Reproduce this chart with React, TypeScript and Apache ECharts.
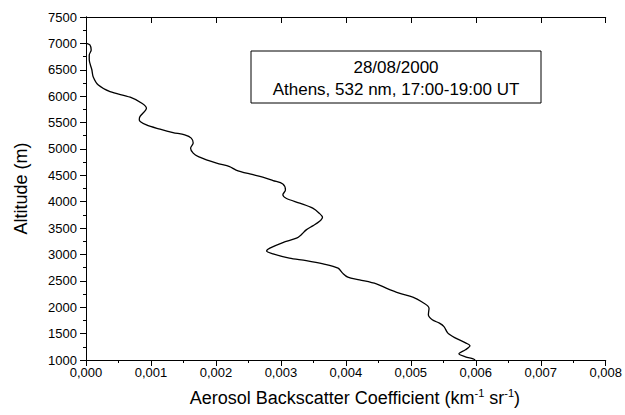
import React, { useEffect, useRef } from "react";
import * as echarts from "echarts";

const altitude = [
  7000, 6970, 6875, 6780, 6690, 6500, 6370, 6210, 6085, 5980, 5865, 5770, 5612, 5550, 5455,
  5375, 5310, 5265, 5205, 5110, 5015, 4920, 4855, 4730, 4665, 4600, 4525, 4465, 4400, 4337,
  4223, 4130, 4066, 3972, 3877, 3782, 3706, 3623, 3542, 3466, 3371, 3309, 3225, 3119, 3065,
  3011, 2930, 2884, 2822, 2740, 2646, 2570, 2519, 2443, 2362, 2267, 2191, 2108, 1983, 1856,
  1761, 1699, 1634, 1509, 1415, 1320, 1269, 1193, 1117, 1060, 1022, 1000,
];

const backscatter = [
  0.00001, 0.00006, 0.00008, 0.00005, 0.00005, 0.00009, 0.00011, 0.00019, 0.00037, 0.00068,
  0.00086, 0.00093, 0.00083, 0.00082, 0.00093, 0.00114, 0.00134, 0.00152, 0.00162, 0.00165,
  0.00161, 0.00165, 0.00173, 0.00201, 0.00221, 0.00231, 0.00252, 0.00272, 0.00288, 0.00303,
  0.00307, 0.00303, 0.00308, 0.00329, 0.00349, 0.00359, 0.00364, 0.00359, 0.00349, 0.00339,
  0.00331, 0.00324, 0.00303, 0.00283, 0.00278, 0.00288, 0.00313, 0.00339, 0.00365, 0.00388,
  0.00395, 0.00403, 0.00421, 0.00447, 0.00462, 0.00482, 0.00503, 0.00516, 0.00528, 0.00527,
  0.00533, 0.00544, 0.00551, 0.00557, 0.00569, 0.00585, 0.00591, 0.00584, 0.00574, 0.00584,
  0.00596, 0.00599,
];

const annotationLines = ["28/08/2000", "Athens, 532 nm, 17:00-19:00 UT"];

const FONT = "'Liberation Sans', Arial, sans-serif";

export default function App() {
  const ref = useRef<HTMLDivElement>(null);

  useEffect(() => {
    if (!ref.current) return;
    const chart = echarts.init(ref.current, null, { renderer: "svg" });
    const data = altitude.map((a, i) => [backscatter[i], a]);
    const axisLine = { show: true, lineStyle: { color: "#000", width: 1 } };

    chart.setOption({
      animation: false,
      backgroundColor: "#fff",
      textStyle: { fontFamily: FONT },
      grid: { left: 86, right: 18, top: 17, bottom: 55, containLabel: false },
      xAxis: [
        {
          type: "value",
          position: "bottom",
          min: 0,
          max: 0.008,
          interval: 0.001,
          axisLine,
          axisTick: { show: true, inside: false, length: 6, lineStyle: { color: "#000" } },
          minorTick: { show: true, splitNumber: 2, length: 3, lineStyle: { color: "#000" } },
          splitLine: { show: false },
          axisLabel: {
            color: "#000",
            fontSize: 13,
            fontFamily: FONT,
            margin: 6,
            formatter: (v: number) => v.toFixed(3).replace(".", ","),
          },
          name: "Aerosol Backscatter Coefficient (km{sup|-1} sr{sup|-1})",
          nameLocation: "middle",
          nameGap: 27,
          nameTextStyle: {
            color: "#000",
            fontSize: 18,
            fontFamily: FONT,
            lineHeight: 22,
            padding: [0, 0, 0, 18],
            rich: {
              sup: { fontSize: 11, fontFamily: FONT, color: "#000", verticalAlign: "top", lineHeight: 11 },
            },
          },
        },
        {
          type: "value",
          position: "top",
          min: 0,
          max: 0.008,
          interval: 0.001,
          axisLine,
          axisTick: { show: true, inside: true, length: 6, lineStyle: { color: "#000" } },
          axisLabel: { show: false },
          splitLine: { show: false },
        },
      ],
      yAxis: [
        {
          type: "value",
          position: "left",
          min: 1000,
          max: 7500,
          interval: 500,
          axisLine,
          axisTick: { show: true, inside: false, length: 6, lineStyle: { color: "#000" } },
          minorTick: { show: true, splitNumber: 2, length: 3, lineStyle: { color: "#000" } },
          splitLine: { show: false },
          axisLabel: {
            color: "#000",
            fontSize: 13,
            fontFamily: FONT,
            margin: 9,
            formatter: (v: number) => String(Math.round(v)),
          },
          name: "Altitude (m)",
          nameLocation: "middle",
          nameGap: 56,
          nameRotate: 90,
          nameTextStyle: { color: "#000", fontSize: 18, fontFamily: FONT },
        },
        {
          type: "value",
          position: "right",
          min: 1000,
          max: 7500,
          interval: 500,
          axisLine,
          axisTick: { show: true, inside: true, length: 6, lineStyle: { color: "#000" } },
          axisLabel: { show: false },
          splitLine: { show: false },
        },
      ],
      series: [
        {
          type: "line",
          xAxisIndex: 0,
          yAxisIndex: 0,
          data,
          smooth: 0.3,
          showSymbol: false,
          symbol: "none",
          lineStyle: { color: "#000", width: 1.3 },
        },
      ],
      graphic: [
        {
          type: "rect",
          shape: { x: 251, y: 51, width: 290, height: 52 },
          style: { fill: "#fff", stroke: "#000", lineWidth: 1 },
          z: 10,
        },
        {
          type: "text",
          x: 396,
          y: 67,
          style: {
            text: annotationLines[0],
            fill: "#000",
            font: `17px ${FONT}`,
            textAlign: "center",
            textVerticalAlign: "middle",
          },
          z: 11,
        },
        {
          type: "text",
          x: 396,
          y: 89,
          style: {
            text: annotationLines[1],
            fill: "#000",
            font: `17px ${FONT}`,
            textAlign: "center",
            textVerticalAlign: "middle",
          },
          z: 11,
        },
      ],
    });

    return () => chart.dispose();
  }, []);

  return (
    <div
      ref={ref}
      style={{ position: "absolute", left: 0, top: 0, width: 625, height: 415, background: "#fff" }}
    />
  );
}
